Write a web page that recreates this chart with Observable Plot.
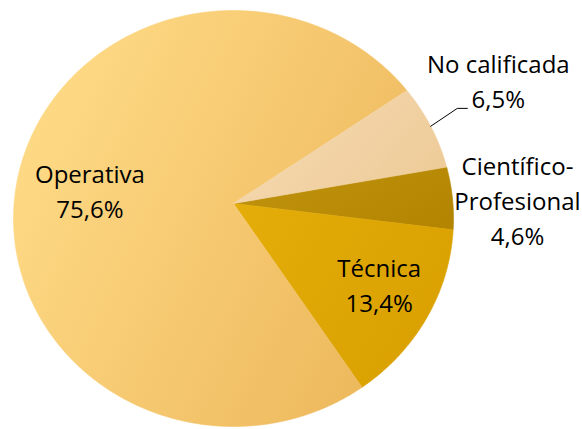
<!DOCTYPE html>
<html>
<head>
<meta charset="utf-8">
<script src="https://cdn.jsdelivr.net/npm/d3@7"></script>
<script src="https://cdn.jsdelivr.net/npm/@observablehq/plot@0.6"></script>
<style>
  html, body { margin: 0; padding: 0; background: #fff; }
  svg { display: block; }
</style>
</head>
<body>
<div id="chart"></div>
<script>
// ---- data ----
const categories = ["Científico-Profesional", "Técnica", "Operativa", "No calificada"];
const labelLines = [["Científico-", "Profesional"], ["Técnica"], ["Operativa"], ["No calificada"]];
const values = [4.6, 13.4, 75.6, 6.5];

// ---- layout / style ----
const W = 582, H = 429;
const vertex = {x: 233, y: 203};           // point where slices meet
const ell = {cx: 233, cy: 218, rx: 220, ry: 208}; // outline of the pie
const startAngle = 80.3;                    // degrees clockwise from 12 o'clock
const gradients = [
  ["#c0930e", "#b38500"],
  ["#e3ac08", "#d9a000"],
  ["#ffdb87", "#edb85c"],
  ["#f5dab2", "#eecb98"]
];
const labelRadius = [284, 168, 144, 291];
const labelNudge = [1.1, -1.1, -6.6, -3.1];
const lineStep = 35;
const fontSize = 24;

// ---- geometry ----
const rad = a => a * Math.PI / 180;
function rayHit(theta) {
  const dx = Math.sin(rad(theta)), dy = -Math.cos(rad(theta));
  const ox = vertex.x - ell.cx, oy = vertex.y - ell.cy;
  const a = dx * dx / (ell.rx * ell.rx) + dy * dy / (ell.ry * ell.ry);
  const b = 2 * (ox * dx / (ell.rx * ell.rx) + oy * dy / (ell.ry * ell.ry));
  const c = ox * ox / (ell.rx * ell.rx) + oy * oy / (ell.ry * ell.ry) - 1;
  const t = (-b + Math.sqrt(b * b - 4 * a * c)) / (2 * a);
  return {x: vertex.x + t * dx, y: vertex.y + t * dy};
}
const total = d3.sum(values);
let acc = startAngle;
const slices = values.map((v, i) => {
  const a0 = acc, a1 = acc + v / total * 360;
  acc = a1;
  return {i, cat: categories[i], value: v, a0, a1, mid: (a0 + a1) / 2};
});
const polyPts = [];
slices.forEach(s => {
  const n = Math.max(2, Math.ceil((s.a1 - s.a0) / 0.5));
  polyPts.push({cat: s.cat, x: vertex.x, y: vertex.y});
  for (let k = 0; k <= n; k++) {
    const p = rayHit(s.a0 + (s.a1 - s.a0) * k / n);
    polyPts.push({cat: s.cat, x: p.x, y: p.y});
  }
  polyPts.push({cat: s.cat, x: vertex.x, y: vertex.y});
});

const fmt = v => v.toFixed(1).replace(".", ",") + "%";
const textRows = [];
const labelCenters = slices.map(s => {
  const th = s.mid + labelNudge[s.i];
  const r = labelRadius[s.i];
  return {x: vertex.x + r * Math.sin(rad(th)), y: vertex.y - r * Math.cos(rad(th))};
});
slices.forEach(s => {
  const lines = [...labelLines[s.i], fmt(s.value)];
  const c = labelCenters[s.i];
  lines.forEach((t, j) => {
    textRows.push({text: t, x: c.x, y: c.y + (j - (lines.length - 1) / 2) * lineStep});
  });
});

// leader line for "No calificada"
const nc = slices[3];
const ncStart = rayHit(nc.mid);
const ncC = labelCenters[3];
const ncEndY = ncC.y + lineStep / 2 + 8;
const leader = [
  {x: ncStart.x, y: ncStart.y},
  {x: ncC.x - 41, y: ncEndY},
  {x: ncC.x - 31, y: ncEndY}
];

const urls = categories.map((c, i) => `url(#grad${i})`);

const defs = () => {
  const g = d3.create("svg:defs");
  gradients.forEach((cols, i) => {
    const lg = g.append("linearGradient").attr("id", `grad${i}`)
      .attr("x1", 0).attr("y1", 0.25).attr("x2", 1).attr("y2", 0.75);
    lg.append("stop").attr("offset", "0%").attr("stop-color", cols[0]);
    lg.append("stop").attr("offset", "100%").attr("stop-color", cols[1]);
  });
  return g.node();
};

const chart = Plot.plot({
  width: W, height: H,
  margin: 0,
  x: {domain: [0, W], range: [0, W], axis: null},
  y: {domain: [0, H], range: [0, H], axis: null},
  color: {domain: categories, range: urls},
  style: {fontFamily: "'Open Sans', sans-serif", background: "#fff"},
  marks: [
    defs,
    Plot.line(polyPts, {x: "x", y: "y", z: "cat", fill: "cat", stroke: "cat", strokeWidth: 0.6, curve: "linear"}),
    Plot.line(leader, {x: "x", y: "y", stroke: "#000", strokeWidth: 1}),
    Plot.text(textRows, {x: "x", y: "y", text: "text", fontSize: fontSize, fill: "#000", textAnchor: "middle"})
  ]
});
document.getElementById("chart").appendChild(chart);
</script>
</body>
</html>
